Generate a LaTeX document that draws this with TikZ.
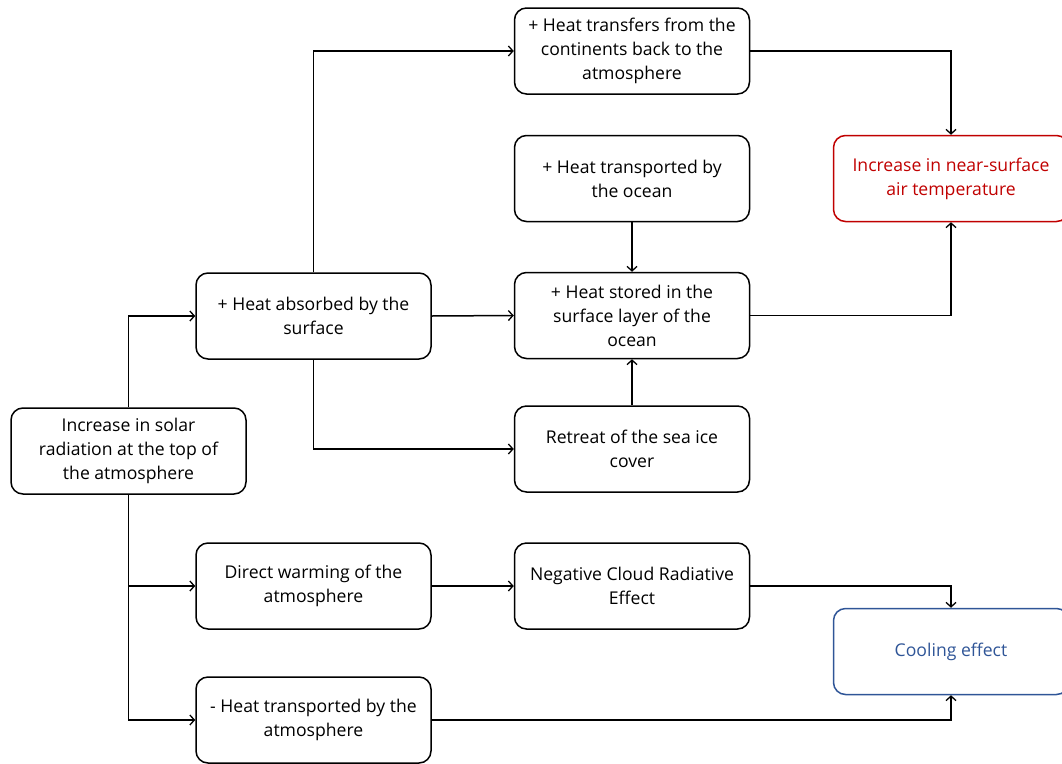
\documentclass[tikz,border=0pt]{standalone}
\usepackage{fontspec}
\setmainfont{Open Sans}
\usetikzlibrary{arrows.meta}
\definecolor{boxred}{HTML}{C00000}
\definecolor{boxblue}{HTML}{2F5597}
\begin{document}
\begin{tikzpicture}[x=1pt,y=-1pt,
  box/.style={draw, line width=1.5pt, rounded corners=12pt, minimum width=235pt, minimum height=86pt,
    align=center, inner sep=2pt, font=\fontsize{17.6}{24}\selectfont},
  conn/.style={line width=1.5pt, -{Straight Barb[length=4.5pt,width=10pt,line width=1.3pt]}},
  redbox/.style={box, draw=boxred, text=boxred},
  bluebox/.style={box, draw=boxblue, text=boxblue}]
\useasboundingbox (0,0) rectangle (1062,763);
\node[box] (solar) at (128.5,451) {Increase in solar\\radiation at the top of\\the atmosphere};
\node[box] (absorb) at (313.5,316) {+ Heat absorbed by the\\surface};
\node[box] (transfer) at (632,51) {+ Heat transfers from the\\continents back to the\\atmosphere};
\node[box] (ocean) at (632,178.5) {+ Heat transported by\\the ocean};
\node[box] (stored) at (632,315.5) {+ Heat stored in the\\surface layer of the\\ocean};
\node[box] (retreat) at (632,449) {Retreat of the sea ice\\cover};
\node[box] (direct) at (313.5,586) {Direct warming of the\\atmosphere};
\node[box] (negative) at (632,586) {Negative Cloud Radiative\\Effect};
\node[box] (minus) at (313.5,720) {- Heat transported by the\\atmosphere};
\node[redbox] (near) at (951,178.5) {Increase in near-surface\\air temperature};
\node[bluebox] (cool) at (951,651.5) {Cooling effect};

\draw[conn] (solar.north) |- (absorb.west);
\draw[conn] (solar.south) |- (minus.west);
\draw[conn] (solar.south) |- (direct.west);
\draw[conn] (absorb.north) |- (transfer.west);
\draw[conn] (absorb.east) -- (stored.west);
\draw[conn] (absorb.south) |- (retreat.west);
\draw[conn] (ocean.south) -- (stored.north);
\draw[conn] (retreat.north) -- (stored.south);
\draw[conn] (transfer.east) -| (near.north);
\draw[conn] (stored.east) -| (near.south);
\draw[conn] (negative.east) -| (cool.north);
\draw[conn] (minus.east) -| (cool.south);
\draw[conn] (direct.east) -- (negative.west);
\end{tikzpicture}
\end{document}
